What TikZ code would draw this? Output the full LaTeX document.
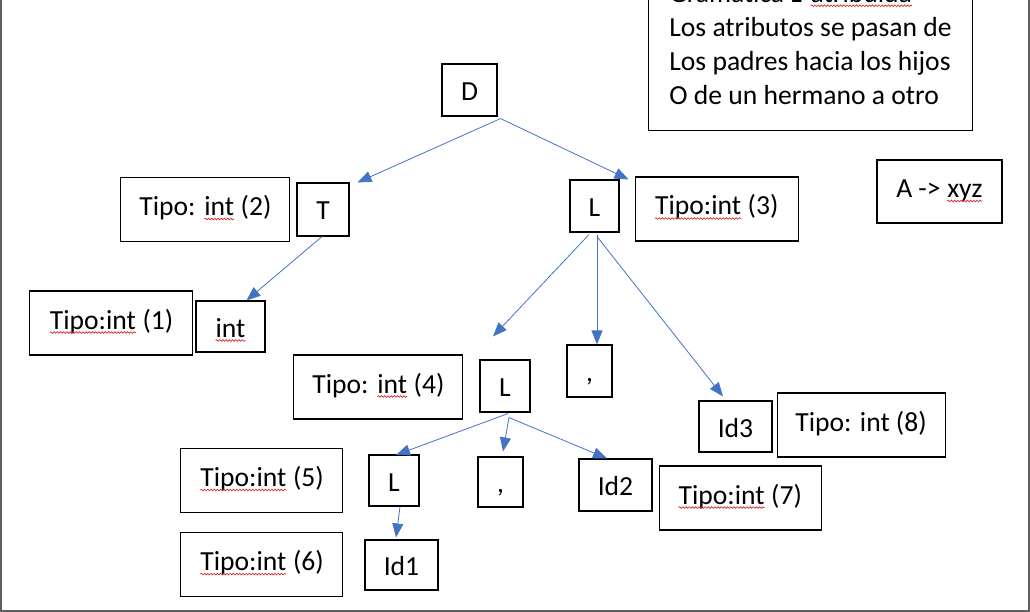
\documentclass[tikz,border=0pt]{standalone}
\usepackage{fontspec}
\setmainfont{Carlito}
\usetikzlibrary{arrows.meta,positioning,decorations.pathmorphing}
\definecolor{arrowblue}{HTML}{4472C4}
\definecolor{spellred}{HTML}{D42A2A}
\definecolor{framegray}{HTML}{5F5F5F}
\tikzset{
x=1pt,
y=-1pt,
}
\newcommand\spell[1]{\tikz[baseline=(w.base)]{\node[draw=none, inner sep=0pt, outer sep=0pt, minimum width=0pt, minimum height=0pt, text height={}, text depth={}, align=none, anchor=base] (w) {#1};\draw[spellred, line width=0.7pt, decorate, decoration={snake, amplitude=0.8pt, segment length=3.2pt}] ([yshift=-3.5pt]w.base west) -- ([yshift=-3.5pt]w.base east);}}

\begin{document}
\begin{tikzpicture}
    [font=\fontsize{27.6}{34}\selectfont,
    sym/.style={draw, line width=1.1pt, minimum width=#1, minimum height=52, inner sep=0pt, text height=21pt, text depth=0pt},
    sym/.default=50,
    attr/.style={draw, line width=1.1pt, minimum width=#1, minimum height=64, inner sep=0pt, text height=20pt, text depth=8pt},
    attr/.default=163,
    link/.style={draw=arrowblue, line width=0.8pt, -{Triangle[length=14pt,width=11pt]}}
    ]

    \useasboundingbox (0,0) rectangle (1030,612);
    \clip (0,0) rectangle (1030,612);

    \node [sym=55] (D) at (469.5,90) {D};
    \node [sym=52, minimum height=53] (T) at (323,209.5) {T};
    \node [sym=49] (L1) at (594.5,206) {L};
    \node [sym=69, minimum height=51] (int) at (230.5,326.5) {\spell{int}};
    \node [sym=50] (L2) at (505,386) {L};
    \node [sym=45] (c1) at (589.5,371) {,};
    \node [sym=73, minimum height=51] (id3) at (735.5,426.5) {Id3};
    \node [sym=50, minimum height=51] (L3) at (394,480.5) {L};
    \node [sym=45, minimum height=50] (c2) at (500.5,482) {,};
    \node [sym=73] (id2) at (615.5,485) {Id2};
    \node [sym=73, minimum height=50] (id1) at (401.5,565) {Id1};

    \node [attr=169] (t2) [left=6pt of T] {Tipo: \spell{int} (2)};
    \node [attr] (t1) [left=2pt of int, yshift=3.5pt] {\spell{Tipo:int} (1)};
    \node [attr] (t3) [right=15pt of L1, yshift=-3pt] {\spell{Tipo:int} (3)};
    \node [attr=169] (t4) [left=16pt of L2, yshift=-1pt] {Tipo: \spell{int} (4)};
    \node [attr=168] (t8) [right=4pt of id3, yshift=1.5pt] {Tipo: int (8)};
    \node [attr=162] (t5) [left=25pt of L3] {\spell{Tipo:int} (5)};
    \node [attr=162] (t6) [below=19pt of t5] {\spell{Tipo:int} (6)};
    \node [attr=162] (t7) [right=6pt of id2, yshift=-13pt] {\spell{Tipo:int} (7)};

    \node [attr=125, minimum height=63] (rule) at (939.5,191.5) {A -> \spell{xyz}};

    \node [draw, line width=1.1pt, align=left, minimum width=324, inner ysep=26pt, anchor=south west] (note) at (648,131)
    {
        Gramática L-\spell{atribuida}
        \\
        Los atributos se pasan de
        \\
        Los padres hacia los hijos
        \\
        O de un hermano a otro
    };

    \draw[link] ([shift={(3,2)}]D.south east) -- ([xshift=8pt]T.north east);
    \draw[link] ([shift={(3,2)}]D.south east) -- ([xshift=9pt]L1.north east);
    \draw[link] ([xshift=-1pt]T.south) -- ([xshift=16pt]int.north);
    \draw[link] ([shift={(-5.5,2)}]L1.south) -- ([shift={(-12,-23)}]L2.north);
    \draw[link] ([shift={(2.5,2)}]L1.south) -- ([xshift=7.5pt]c1.north);
    \draw[link] ([shift={(2.5,4)}]L1.south) -- ([shift={(-12.5,-4)}]id3.north);
    \draw[link] ([shift={(3,1)}]L2.south) -- ([shift={(2,0.5)}]L3.north);
    \draw[link] ([shift={(4,5)}]L2.south) -- ([shift={(2.5,-5)}]c2.north);
    \draw[link] ([shift={(4,5)}]L2.south) -- ([shift={(-8.5,0)}]id2.north);
    \draw[link] ([xshift=6pt]L3.south) -- ([shift={(-5.5,-2)}]id1.north);

    \draw[framegray, line width=2pt] (1,-5) -- (1,610.5) -- (1028.5,610.5) -- (1028.5,-5);

\end{tikzpicture}
\end{document}
